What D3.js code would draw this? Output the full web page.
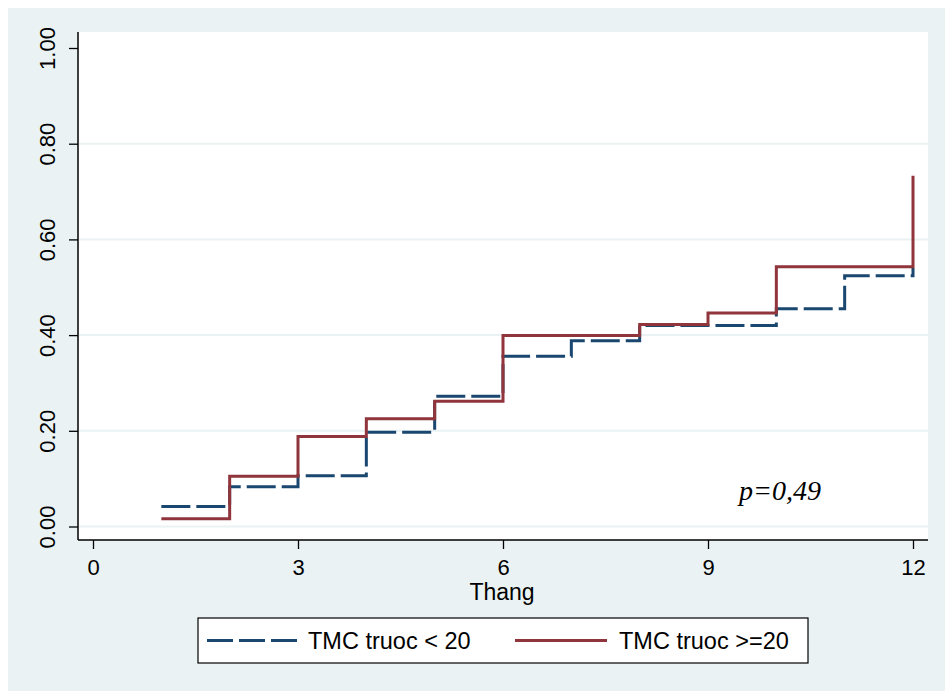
<!DOCTYPE html>
<html>
<head>
<meta charset="utf-8">
<script src="https://cdn.jsdelivr.net/npm/d3@7"></script>
<style>
  html, body { margin: 0; padding: 0; background: #ffffff; }
  svg { display: block; }
</style>
</head>
<body>
<svg id="chart" width="945" height="691"></svg>
<script>
// ---- data ----
const xTicks = [0, 3, 6, 9, 12];
const yTicks = [0, 0.2, 0.4, 0.6, 0.8, 1.0];
const seriesNames = ["TMC truoc < 20", "TMC truoc >=20"];
const lowMonths  = [1, 2, 3, 4, 5, 6, 7, 8, 10, 11, 12, 12];
const lowValues  = [0.042, 0.083, 0.106, 0.197, 0.272, 0.356, 0.388, 0.420, 0.455, 0.524, 0.524, 0.540];
const highMonths = [1, 2, 3, 4, 5, 6, 8, 9, 10, 12, 12];
const highValues = [0.016, 0.105, 0.188, 0.225, 0.262, 0.399, 0.422, 0.446, 0.543, 0.543, 0.733];
const xTitle = "Thang";
const pText = "p=0,49";
const colors = ["#1a476f", "#90353b"];

// ---- layout ----
const svg = d3.select("#chart");
const plot = { left: 78, right: 928, top: 32, bottom: 540 };

svg.append("rect").attr("x", 8).attr("y", 8).attr("width", 937).attr("height", 683).attr("fill", "#eaf2f3");
svg.append("rect").attr("x", plot.left).attr("y", plot.top)
  .attr("width", plot.right - plot.left).attr("height", plot.bottom - plot.top).attr("fill", "#ffffff");

const x = d3.scaleLinear().domain([0, 12]).range([93, 913]);
const y = d3.scaleLinear().domain([0, 1]).range([526.5, 48]);

// gridlines
svg.append("g").selectAll("line").data(yTicks.filter(d => d < 1)).join("line")
  .attr("x1", plot.left + 1).attr("x2", plot.right)
  .attr("y1", d => y(d)).attr("y2", d => y(d))
  .attr("stroke", "#eaf2f3").attr("stroke-width", 2);

// y axis
const yAxis = d3.axisLeft(y).tickValues(yTicks).tickFormat(d3.format(".2f")).tickSize(9).tickSizeOuter(0);
const gy = svg.append("g").attr("transform", `translate(${plot.left},0)`).call(yAxis);
gy.select(".domain").remove();
gy.selectAll(".tick line").attr("stroke", "#000").attr("stroke-width", 1.3);
gy.selectAll(".tick text")
  .attr("transform", "rotate(-90)")
  .attr("x", 0).attr("y", -23).attr("dy", 0)
  .attr("text-anchor", "middle")
  .style("font-family", "'Liberation Sans', Arial, sans-serif")
  .style("font-size", "22px").attr("fill", "#000");
svg.append("line").attr("x1", plot.left).attr("x2", plot.left)
  .attr("y1", plot.top).attr("y2", plot.bottom).attr("stroke", "#000").attr("stroke-width", 1.5);

// x axis
const xAxis = d3.axisBottom(x).tickValues(xTicks).tickFormat(d3.format("d")).tickSize(9).tickSizeOuter(0);
const gx = svg.append("g").attr("transform", `translate(0,${plot.bottom})`).call(xAxis);
gx.select(".domain").remove();
gx.selectAll(".tick line").attr("stroke", "#000").attr("stroke-width", 1.3);
gx.selectAll(".tick text")
  .attr("y", 35).attr("dy", 0)
  .style("font-family", "'Liberation Sans', Arial, sans-serif")
  .style("font-size", "22px").attr("fill", "#000");
svg.append("line").attr("x1", plot.left).attr("x2", plot.right)
  .attr("y1", plot.bottom).attr("y2", plot.bottom).attr("stroke", "#000").attr("stroke-width", 1.5);

svg.append("text").attr("x", 502).attr("y", 599.5).attr("text-anchor", "middle")
  .style("font-family", "'Liberation Sans', Arial, sans-serif").style("font-size", "23px")
  .text(xTitle);

// lines
const line = d3.line().x(d => x(d[0])).y(d => y(d[1])).curve(d3.curveStepAfter);
const lowData = lowMonths.map((m, i) => [m, lowValues[i]]);
const highData = highMonths.map((m, i) => [m, highValues[i]]);

svg.append("path").datum(lowData).attr("d", line).attr("fill", "none")
  .attr("stroke", colors[0]).attr("stroke-width", 3).attr("stroke-dasharray", "29,6");
svg.append("path").datum(highData).attr("d", line).attr("fill", "none")
  .attr("stroke", colors[1]).attr("stroke-width", 3);

// p value
svg.append("text").attr("x", 739).attr("y", 500)
  .style("font-family", "'Liberation Serif', 'Times New Roman', serif").style("font-style", "italic")
  .style("font-size", "28px").text(pText);

// legend
svg.append("rect").attr("x", 198).attr("y", 618).attr("width", 610).attr("height", 45)
  .attr("fill", "#fff").attr("stroke", "#000").attr("stroke-width", 1.2);
svg.append("line").attr("x1", 207).attr("x2", 298).attr("y1", 640.5).attr("y2", 640.5)
  .attr("stroke", colors[0]).attr("stroke-width", 3).attr("stroke-dasharray", "26,6");
svg.append("line").attr("x1", 515).attr("x2", 607).attr("y1", 640.5).attr("y2", 640.5)
  .attr("stroke", colors[1]).attr("stroke-width", 3);
svg.append("text").attr("x", 308).attr("y", 649)
  .style("font-family", "'Liberation Sans', Arial, sans-serif").style("font-size", "23.5px").text(seriesNames[0]);
svg.append("text").attr("x", 619).attr("y", 649)
  .style("font-family", "'Liberation Sans', Arial, sans-serif").style("font-size", "23.5px").text(seriesNames[1]);
</script>
</body>
</html>
